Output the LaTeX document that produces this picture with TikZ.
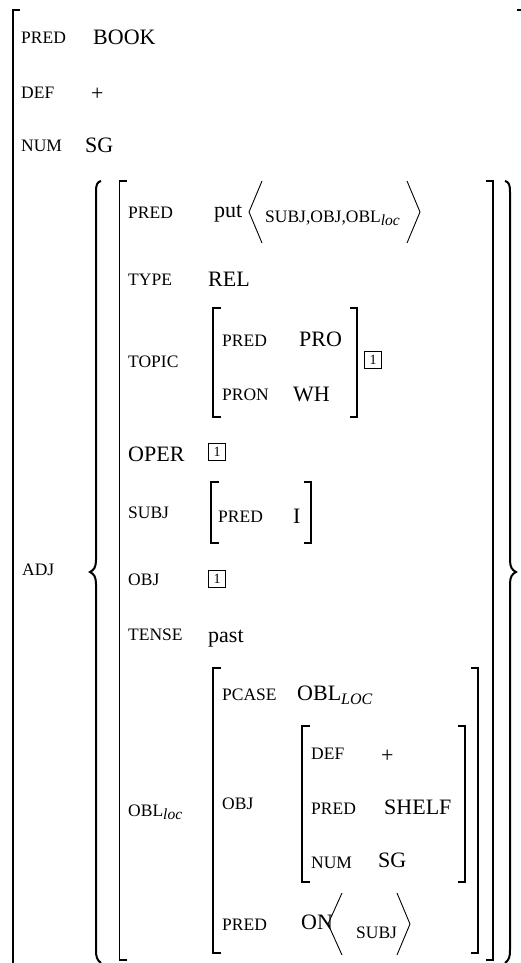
\documentclass[tikz,border=0pt]{standalone}
\usepackage{fontspec}
\setmainfont{Liberation Serif}
\begin{document}
\begin{tikzpicture}[x=1pt,y=-1pt,
  lab/.style={font=\fontsize{17.5}{20}\selectfont, inner sep=0pt, anchor=west, text height=11.6pt, text depth=0pt},
  val/.style={font=\fontsize{22}{26}\selectfont, inner sep=0pt, anchor=west, text height=14.6pt, text depth=0pt},
  brk/.style={line width=1.4pt},
  brc/.style={line width=2pt},
  ang/.style={line width=0.9pt},
  tag/.style={draw, line width=0.7pt, inner sep=0pt, minimum size=17.5pt, font=\fontsize{14}{14}\selectfont}]
\useasboundingbox (0,0) rectangle (521,963);
% outer bracket
\draw[brk] (20,10) -- (13,10) -- (13,963);
\draw[brk] (517,10) -- (521,10);
% top level
\node[lab] (p0) at (21,38) {PRED};
\node[val] (v0) at (93,37) {BOOK};
\node[lab] (d0) at (21,93) {DEF};
\node[val] (dv0) at (91,93) {+};
\node[lab] (n0) at (21,146) {NUM};
\node[val] (nv0) at (85,145) {SG};
\node[lab] (adj) at (22,570) {ADJ};
% braces
\draw[brc] (101,181) .. controls (97,182) and (96,185) .. (96,192) -- (96,560) .. controls (96,567) and (94,570) .. (90,572) .. controls (94,574) and (96,577) .. (96,584) -- (96,950) .. controls (96,957) and (97,960) .. (101,963);
\draw[brc] (505,181) .. controls (509,182) and (510,185) .. (510,192) -- (510,560) .. controls (510,567) and (512,570) .. (516,572) .. controls (512,574) and (510,577) .. (510,584) -- (510,950) .. controls (510,957) and (509,960) .. (505,963);
% ADJ brackets
\draw[brk] (127,181) -- (119.5,181) -- (119.5,960) -- (127,960);
\draw[brk] (486,181) -- (493,181) -- (493,960) -- (486,960);
% PRED put
\node[lab] (p1) at (128,212.5) {PRED};
\node[val] (put) at (214,209.7) {put};
\draw[ang] (262,181) -- (249,212) -- (262,243);
\node[lab] (args) at (265,217) {SUBJ,OBJ,OBL\raisebox{-3pt}{\fontsize{15.5}{15}\selectfont\itshape loc}};
\draw[ang] (407,181) -- (420,212) -- (407,243);
% TYPE
\node[lab] (ty) at (128,280) {TYPE};
\node[val] (rel) at (208,279.5) {REL};
% TOPIC
\node[lab] (top) at (128,361.5) {TOPIC};
\draw[brk] (221,308) -- (213,308) -- (213,417) -- (221,417);
\draw[brk] (350,308) -- (357,308) -- (357,417) -- (350,417);
\node[lab] (tp) at (222,340.5) {PRED};
\node[val] (pro) at (299,339.5) {PRO};
\node[lab] (tpr) at (222,394.5) {PRON};
\node[val] (wh) at (293,394) {WH};
\node[tag] (t1) at (373,360) {1};
% OPER
\node[val] (oper) at (128,454) {OPER};
\node[tag] (t2) at (217,452) {1};
% SUBJ
\node[lab] (subj) at (128,513) {SUBJ};
\draw[brk] (219,482) -- (211,482) -- (211,543) -- (219,543);
\draw[brk] (304,482) -- (311,482) -- (311,543) -- (304,543);
\node[lab] (sp) at (218,517) {PRED};
\node[val] (si) at (293,516) {I};
% OBJ
\node[lab] (obj) at (128,580) {OBJ};
\node[tag] (t3) at (217,579) {1};
% TENSE
\node[lab] (tense) at (128,634.5) {TENSE};
\node[val] (past) at (208,634.7) {past};
% OBL
\node[lab] (obl) at (128,810.5) {OBL\raisebox{-3pt}{\fontsize{15.5}{15}\selectfont\itshape loc}};
\draw[brk] (221,668) -- (213,668) -- (213,953) -- (221,953);
\draw[brk] (471,668) -- (478,668) -- (478,953) -- (471,953);
\node[lab] (pc) at (222,694.5) {PCASE};
\node[val] (pcv) at (297,693.5) {OBL\raisebox{-4pt}{\fontsize{16}{16}\selectfont\itshape LOC}};
\node[lab] (oobj) at (222,803.5) {OBJ};
\draw[brk] (310,726) -- (302,726) -- (302,882) -- (310,882);
\draw[brk] (458,726) -- (465,726) -- (465,882) -- (458,882);
\node[lab] (od) at (311,754) {DEF};
\node[val] (odv) at (381,755) {+};
\node[lab] (op) at (311,809) {PRED};
\node[val] (opv) at (384,807) {SHELF};
\node[lab] (on) at (311,862.5) {NUM};
\node[val] (onv) at (378,860.5) {SG};
\node[lab] (lp) at (222,924.5) {PRED};
\node[val] (onp) at (301,922) {ON};
\draw[ang] (342,893) -- (328,924) -- (342,955);
\node[lab] (lsubj) at (356,933) {SUBJ};
\draw[ang] (397,893) -- (410,924) -- (397,955);
\end{tikzpicture}
\end{document}
